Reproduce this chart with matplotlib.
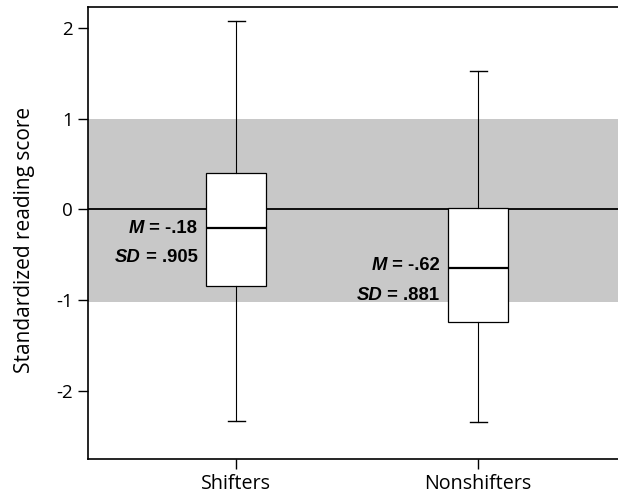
import matplotlib
matplotlib.use('Agg')
import matplotlib.pyplot as plt

# Data
groups = ['Shifters', 'Nonshifters']
whisker_low = [-2.34, -2.35]
q1 = [-0.85, -1.24]
median = [-0.21, -0.65]
q3 = [0.40, 0.01]
whisker_high = [2.08, 1.52]
means = ['-.18', '-.62']
sds = ['.905', '.881']
band = (-1.02, 1.0)
yticks = [-2, -1, 0, 1, 2]

plt.rcParams['font.family'] = ['Open Sans', 'DejaVu Sans']

fig = plt.figure(figsize=(6.18, 4.95), dpi=100)
ax = fig.add_axes([88 / 618, 36 / 495, 530 / 618, 452 / 495])

# shaded +/- 1 SD band and zero line
ax.axhspan(band[0], band[1], color='#c8c8c8', lw=0, zorder=0)
ax.axhline(0, color='black', lw=1.3, zorder=1)

positions = [1, 2]
stats = []
for i, g in enumerate(groups):
    stats.append(dict(label=g, whislo=whisker_low[i], q1=q1[i], med=median[i],
                      q3=q3[i], whishi=whisker_high[i], fliers=[]))

box_w = 0.25
ax.bxp(stats, positions=positions, widths=box_w, capwidths=0.07,
       showfliers=False, patch_artist=True,
       boxprops=dict(facecolor='white', edgecolor='black', linewidth=0.9),
       whiskerprops=dict(color='black', linewidth=0.8),
       capprops=dict(color='black', linewidth=1.0),
       medianprops=dict(color='black', linewidth=1.6),
       zorder=3)

# M / SD annotations left of each box
text_y = [(-0.21, -0.53), (-0.62, -0.95)]
for i, pos in enumerate(positions):
    x = pos - box_w / 2 - 0.035
    for lab, val, yy in [('M', means[i], text_y[i][0]), ('SD', sds[i], text_y[i][1])]:
        t = ax.text(x, yy, ' = ' + val, ha='right', va='center', fontsize=13.3,
                    fontweight='bold', family='Liberation Sans', zorder=4)
        ax.annotate(lab, xy=(0, 0.5), xycoords=t, ha='right', va='center',
                    fontsize=13.3, fontweight='bold', fontstyle='italic',
                    family='Liberation Sans', zorder=4)

ax.set_xlim(0.388, 2.578)
ax.set_ylim(-2.755, 2.23)
ax.set_xticks(positions)
ax.set_xticklabels(groups, fontsize=14.2)
ax.set_yticks(yticks)
ax.set_yticklabels([str(v) for v in yticks], fontsize=13.5)
ax.set_ylabel('Standardized reading score', fontsize=15, labelpad=15)
ax.yaxis.label.set_y(0.485)

ax.spines['right'].set_visible(False)
for s in ['left', 'top', 'bottom']:
    ax.spines[s].set_linewidth(1.2)
ax.tick_params(axis='both', length=7, width=1.0, pad=4)

fig.savefig('out.png', dpi=100)
